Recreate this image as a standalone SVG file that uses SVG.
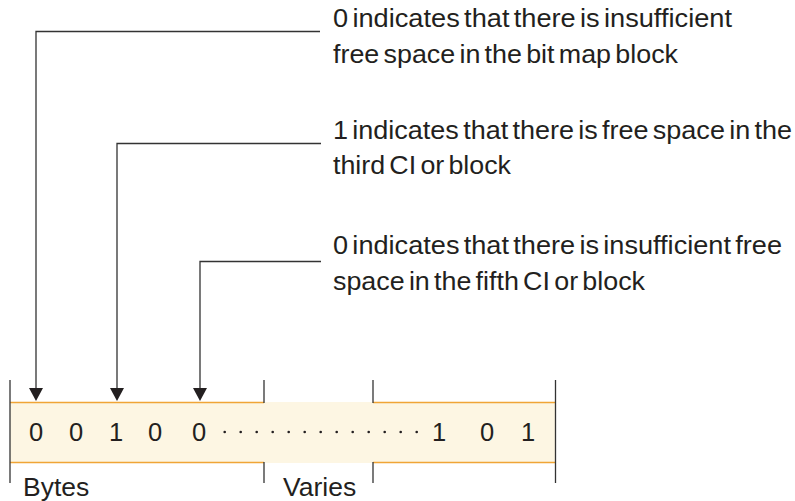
<svg xmlns="http://www.w3.org/2000/svg" width="795" height="501" viewBox="0 0 795 501">
<style>
.lbl{font-family:"Liberation Sans",Arial,sans-serif;font-size:25px;fill:#231f20;word-spacing:-3px}
.dig{font-family:"Liberation Sans",Arial,sans-serif;font-size:25.5px;fill:#231f20;text-anchor:middle}
.cap{font-family:"Liberation Sans",Arial,sans-serif;font-size:26.5px;fill:#231f20}
.con{fill:none;stroke:#333;stroke-width:1.3}
.tick{stroke:#333;stroke-width:1.3}
.edge{stroke:#f0a536;stroke-width:1.6}
</style>
<rect width="795" height="501" fill="#fff"/>
<g id="bar">
<rect x="10" y="402" width="545" height="61" fill="#fdf6e3"/>
<line class="edge" x1="10" y1="402.5" x2="264" y2="402.5"/>
<line class="edge" x1="10" y1="462.5" x2="264" y2="462.5"/>
<line class="edge" x1="373" y1="402.5" x2="555" y2="402.5"/>
<line class="edge" x1="373" y1="462.5" x2="555" y2="462.5"/>
<line class="tick" x1="10" y1="380" x2="10" y2="483"/>
<line class="tick" x1="264" y1="380" x2="264" y2="403"/>
<line class="tick" x1="264" y1="462" x2="264" y2="483"/>
<line class="tick" x1="373" y1="380" x2="373" y2="403"/>
<line class="tick" x1="373" y1="462" x2="373" y2="483"/>
<line class="tick" x1="555.5" y1="380" x2="555.5" y2="483"/>
<text class="dig" x="36" y="441">0</text>
<text class="dig" x="76" y="441">0</text>
<text class="dig" x="116" y="441">1</text>
<text class="dig" x="155" y="441">0</text>
<text class="dig" x="199" y="441">0</text>
<g fill="#231f20">
<circle cx="224.7" cy="432" r="1.3"/><circle cx="240.7" cy="432" r="1.3"/><circle cx="256.7" cy="432" r="1.3"/><circle cx="272.7" cy="432" r="1.3"/><circle cx="288.7" cy="432" r="1.3"/><circle cx="304.7" cy="432" r="1.3"/><circle cx="320.7" cy="432" r="1.3"/><circle cx="336.7" cy="432" r="1.3"/><circle cx="352.7" cy="432" r="1.3"/><circle cx="368.7" cy="432" r="1.3"/><circle cx="384.7" cy="432" r="1.3"/><circle cx="400.7" cy="432" r="1.3"/><circle cx="416.7" cy="432" r="1.3"/>
</g>
<text class="dig" x="439" y="441">1</text>
<text class="dig" x="487" y="441">0</text>
<text class="dig" x="528" y="441">1</text>
<text class="cap" x="23" y="496">Bytes</text>
<text class="cap" x="283" y="496">Varies</text>
</g>
<g id="label1">
<text class="lbl" x="333" y="27" textLength="399" lengthAdjust="spacingAndGlyphs">0 indicates that there is insufficient</text>
<text class="lbl" x="333" y="63" textLength="345" lengthAdjust="spacingAndGlyphs">free space in the bit map block</text>
</g>
<g id="label2">
<text class="lbl" x="333" y="139" textLength="459" lengthAdjust="spacingAndGlyphs">1 indicates that there is free space in the</text>
<text class="lbl" x="333" y="174" textLength="178" lengthAdjust="spacingAndGlyphs">third CI or block</text>
</g>
<g id="label3">
<text class="lbl" x="333" y="254" textLength="449" lengthAdjust="spacingAndGlyphs">0 indicates that there is insufficient free</text>
<text class="lbl" x="333" y="290" textLength="312" lengthAdjust="spacingAndGlyphs">space in the fifth CI or block</text>
</g>
<g id="connectors">
<path class="con" d="M320,31.5 H36 V388"/>
<path class="con" d="M321,143.5 H117 V388"/>
<path class="con" d="M321,261.5 H200 V388"/>
<path d="M29,388 L43,388 L36,401 Z" fill="#231f20"/>
<path d="M110,388 L124,388 L117,401 Z" fill="#231f20"/>
<path d="M193,388 L207,388 L200,401 Z" fill="#231f20"/>
</g>
</svg>
